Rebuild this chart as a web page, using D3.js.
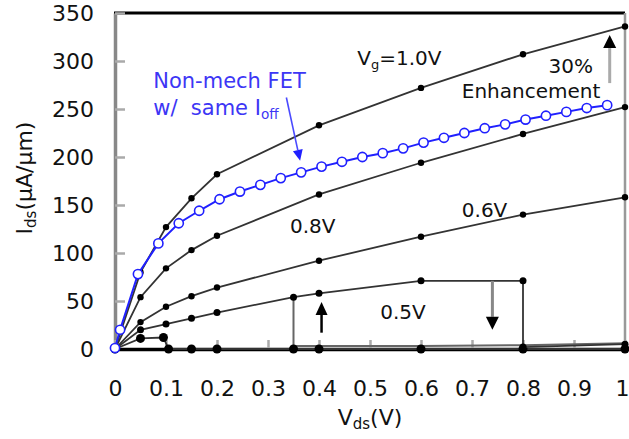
<!DOCTYPE html>
<html>
<head>
<meta charset="utf-8">
<script src="https://cdn.jsdelivr.net/npm/d3@7/dist/d3.min.js"></script>
<style>
  html, body { margin: 0; padding: 0; background: #fff; }
  svg { display: block; }
  text { font-family: "DejaVu Sans", Verdana, sans-serif; fill: #111; }
</style>
</head>
<body>
<svg id="chart" width="629" height="439"></svg>
<script>
// Drain voltage sweep points (V) shared by the mechanical FET curves
const vdsMech = [0, 0.05, 0.1, 0.15, 0.2, 0.4, 0.6, 0.8, 1.0];
// Drain current (uA/um) of the mechanical FET at each gate voltage
const idVg10 = [0, 80, 127, 157, 182, 233, 272, 307, 336];
const idVg08 = [0, 54, 84, 103, 118, 161, 194, 224, 252];
const idVg06 = [0, 28, 44, 55, 64, 92, 117, 140, 158];

// Vg = 0.5V: pull-in branch, then release at 0.8V
const vdsVg05 = [0, 0.05, 0.1, 0.15, 0.2, 0.35, 0.4, 0.6, 0.8, 0.8, 1.0];
const idVg05 = [0, 20, 26, 32, 38, 54, 58, 71, 71, 2, 5];
// Vg = 0.5V: off-state return branch with the jump at 0.35V
const vdsVg05Back = [1.0, 0.8, 0.6, 0.4, 0.35, 0.35];
const idVg05Back = [6, 4, 3, 3, 3, 54];

// Lowest gate voltage: collapses to the off state near 0.1V
const vdsVgLow = [0, 0.05, 0.095, 0.105, 0.15, 0.2, 0.35, 0.4, 0.6, 0.8, 1.0];
const idVgLow = [0, 11, 12, 0, 0, 0, 0, 0, 0, 0, 0];

// Conventional (non-mechanical) FET with the same off current
const vdsNonMech = [0, 0.01, 0.045, 0.085, 0.125, 0.165, 0.205, 0.245, 0.285, 0.325,
  0.365, 0.405, 0.445, 0.485, 0.525, 0.565, 0.605, 0.645, 0.685, 0.725,
  0.765, 0.805, 0.845, 0.885, 0.925, 0.965];
const idNonMech = [1, 20, 78, 110, 131, 144, 156, 164, 171, 178,
  184, 190, 195, 200, 204, 209, 215, 220, 225, 230,
  234, 239, 243, 247, 251, 254];

const xTicks = [0, 0.1, 0.2, 0.3, 0.4, 0.5, 0.6, 0.7, 0.8, 0.9, 1];
const xTickLabels = ["0", "0.1", "0.2", "0.3", "0.4", "0.5", "0.6", "0.7", "0.8", "0.9", "1"];
const yTicks = [0, 50, 100, 150, 200, 250, 300, 350];

const svg = d3.select("#chart");
const plotL = 115, plotR = 625, plotT = 13, plotB = 349;
const x = d3.scaleLinear().domain([0, 1]).range([plotL, plotR]);
const y = d3.scaleLinear().domain([0, 350]).range([plotB, plotT]);

// Frame: gray left/right, black top/bottom
svg.append("line").attr("x1", plotL - 1).attr("x2", plotR).attr("y1", plotT).attr("y2", plotT)
  .attr("stroke", "#000").attr("stroke-width", 3);
svg.append("line").attr("x1", plotR).attr("x2", plotR).attr("y1", plotT).attr("y2", plotB)
  .attr("stroke", "#999").attr("stroke-width", 2.5);

// Axes
const yAxis = d3.axisLeft(y).tickValues(yTicks).tickSizeInner(-10).tickSizeOuter(0).tickPadding(21);
const gy = svg.append("g").attr("transform", `translate(${plotL},0)`).call(yAxis);
gy.select(".domain").attr("stroke", "#888").attr("stroke-width", 3.5);
gy.selectAll(".tick line").attr("stroke", "#aaa").attr("stroke-width", 2.5);
gy.selectAll(".tick text").attr("font-size", 22).attr("dy", "0.36em")
  .style("font-family", '"DejaVu Sans", Verdana, sans-serif').attr("fill", "#111");

const xAxis = d3.axisBottom(x).tickValues(xTicks).tickFormat((d, i) => xTickLabels[i])
  .tickSizeInner(-9).tickSizeOuter(0).tickPadding(47);
const gx = svg.append("g").attr("transform", `translate(0,${plotB})`).call(xAxis);
gx.select(".domain").attr("stroke", "#000").attr("stroke-width", 3.5);
gx.selectAll(".tick line").attr("stroke", "#aaa").attr("stroke-width", 2.5);
gx.selectAll(".tick text").attr("font-size", 22).attr("dy", "0")
  .attr("dx", (d, i) => i === xTicks.length - 1 ? -3 : 0)
  .style("font-family", '"DejaVu Sans", Verdana, sans-serif').attr("fill", "#111");

// Axis titles
const xt = svg.append("text").attr("x", x(0.5)).attr("y", 425).attr("text-anchor", "middle")
  .attr("font-size", 22);
xt.append("tspan").text("V");
xt.append("tspan").attr("font-size", 15).attr("dy", 4).text("ds");
xt.append("tspan").attr("dy", -4).text("(V)");

const yt = svg.append("text").attr("transform", "translate(32,178) rotate(-90)")
  .attr("text-anchor", "middle").attr("font-size", 22);
yt.append("tspan").text("I");
yt.append("tspan").attr("font-size", 15).attr("dy", 4).text("ds");
yt.append("tspan").attr("dy", -4).text("(\u03bcA/\u03bcm)");

const line = d3.line().x(d => x(d[0])).y(d => y(d[1]));
const zip = (xs, ys) => xs.map((v, i) => [v, ys[i]]);

// Mechanical FET curves
function drawMech(xs, ys, r) {
  const pts = zip(xs, ys);
  svg.append("path").datum(pts).attr("d", line)
    .attr("fill", "none").attr("stroke", "#333").attr("stroke-width", 1.8);
  svg.append("g").selectAll("circle").data(pts).join("circle")
    .attr("cx", d => x(d[0])).attr("cy", d => y(d[1])).attr("r", r).attr("fill", "#000");
}

// Return branch of the 0.5V loop (no markers)
svg.append("path").datum(zip(vdsVg05Back, idVg05Back)).attr("d", line)
  .attr("fill", "none").attr("stroke", "#666").attr("stroke-width", 2);

drawMech(vdsVgLow, idVgLow, 4.5);
drawMech(vdsVg05, idVg05, 3.5);
drawMech(vdsMech, idVg06, 3.2);
drawMech(vdsMech, idVg08, 3.2);
drawMech(vdsMech, idVg10, 3.2);

// Non-mechanical FET curve
const blue = "#2020ff";
const nm = zip(vdsNonMech, idNonMech);
svg.append("path").datum(nm).attr("d", line)
  .attr("fill", "none").attr("stroke", blue).attr("stroke-width", 2);
svg.append("g").selectAll("circle").data(nm).join("circle")
  .attr("cx", d => x(d[0])).attr("cy", d => y(d[1])).attr("r", 4.6)
  .attr("fill", "#fff").attr("stroke", blue).attr("stroke-width", 1.6);

// Arrows
function arrow(x0, y0, x1, y1, shaftColor, headColor, w, hl, hw) {
  const px0 = x(x0), py0 = y(y0), px1 = x(x1), py1 = y(y1);
  const a = Math.atan2(py1 - py0, px1 - px0);
  const bx = px1 - hl * Math.cos(a), by = py1 - hl * Math.sin(a);
  svg.append("line").attr("x1", px0).attr("y1", py0).attr("x2", bx).attr("y2", by)
    .attr("stroke", shaftColor).attr("stroke-width", w);
  const nx = -Math.sin(a) * hw / 2, ny = Math.cos(a) * hw / 2;
  svg.append("path").attr("d", `M${px1},${py1}L${bx + nx},${by + ny}L${bx - nx},${by - ny}Z`)
    .attr("fill", headColor);
}
arrow(0.97, 277, 0.97, 327, "#aaa", "#000", 3, 13, 13);
arrow(0.74, 71, 0.74, 20, "#888", "#000", 3, 13, 13);
arrow(0.405, 17, 0.405, 49, "#000", "#000", 2.5, 13, 12);
arrow(0.336, 262, 0.363, 196, "#4a4aff", blue, 1.6, 11, 10);

// Annotations
function note(px, py, parts, color, size) {
  const c = color || "#111";
  const fs = size || 20;
  const t = svg.append("text").attr("x", x(px)).attr("y", y(py)).attr("font-size", fs)
    .style("fill", c);
  parts.forEach(p => {
    if (p.sub) t.append("tspan").attr("font-size", fs * 0.65).attr("dy", 4).text(p.sub).style("fill", c);
    else t.append("tspan").attr("dy", p.after ? -4 : 0).text(p.t).style("fill", c);
  });
}
note(0.475, 296, [{t: "V"}, {sub: "g"}, {t: "=1.0V", after: true}]);
note(0.85, 288, [{t: "30%"}]);
note(0.68, 261, [{t: "Enhancement"}]);
note(0.075, 272, [{t: "Non-mech FET"}], "#3d36f5", 21);
note(0.075, 244, [{t: "w/\u00a0 same I"}, {sub: "off"}], "#3d36f5", 21);
note(0.343, 121, [{t: "0.8V"}]);
note(0.68, 137, [{t: "0.6V"}]);
note(0.52, 31, [{t: "0.5V"}]);
</script>
</body>
</html>
